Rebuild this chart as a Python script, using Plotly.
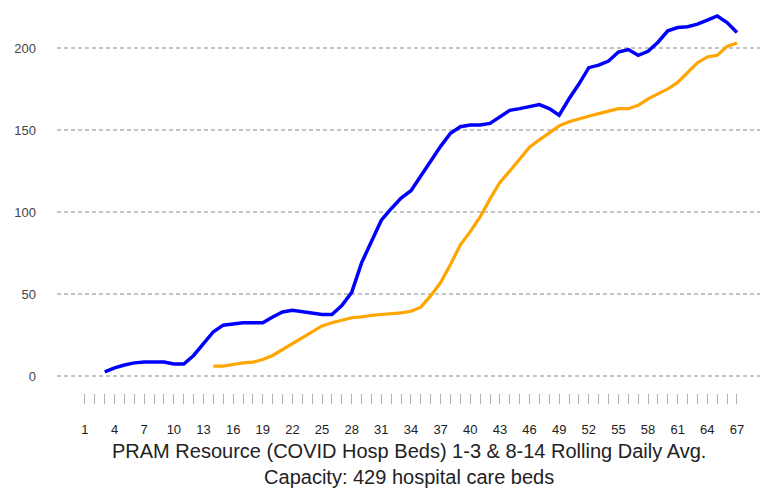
import plotly.graph_objects as go

days = list(range(1, 68))
tick_labels = [str(d) if (d - 1) % 3 == 0 else "" for d in days]

blue_vals = [None, None,
    2.5, 5, 6.7, 8, 8.5, 8.5, 8.5, 7.3, 7.3, 12.5, 20, 27, 31, 32, 32.5, 32.5, 32.5,
    36, 39, 40, 39, 38, 37.5, 37.5, 43, 51, 69, 82, 95, 102, 108.5, 113, 122, 131,
    140, 148, 152, 153, 153, 154, 158, 162, 163, 164.5, 165.5, 163, 159, 169, 178,
    188, 189.5, 192, 197.5, 199, 195.5, 198, 203.5, 210.5, 212.5, 213, 214.5, 217,
    219.5, 215.5, 209.5]

orange_vals = [None] * 13 + [
    6, 6, 7, 8, 8.5, 10, 12.5, 16, 20, 23.5, 27, 30.5, 32.5, 34, 35.5, 36, 37, 37.5,
    38, 38.5, 39.5, 42, 49, 57, 68, 80, 88, 97, 108, 118, 125, 132, 139.5, 144, 148,
    152.5, 155, 156.5, 158, 160, 161.5, 163, 163, 165, 169, 172, 175, 179, 185, 191,
    194.5, 195.5, 201, 203]

y_ticks = [0, 50, 100, 150, 200]
title_text = ("PRAM Resource (COVID Hosp Beds) 1-3 & 8-14 Rolling Daily Avg.<br>"
              "Capacity: 429 hospital care beds")

FONT = "Arial, Liberation Sans, sans-serif"

fig = go.Figure()
fig.add_trace(go.Scatter(x=days, y=blue_vals, mode="lines",
                         line=dict(color="#0000ff", width=3.5), showlegend=False))
fig.add_trace(go.Scatter(x=days, y=orange_vals, mode="lines",
                         line=dict(color="#ffa500", width=3.2), showlegend=False))

fig.update_layout(
    width=760, height=490,
    margin=dict(l=57, r=0, t=5, b=97),
    paper_bgcolor="white", plot_bgcolor="white",
    font=dict(family=FONT, color="#222222"),
    xaxis=dict(range=[-1.83, 69.33], tickmode="array", tickvals=days, ticktext=tick_labels,
               ticks="outside", ticklen=10, tickwidth=1, tickcolor="#b0b0b0",
               showgrid=False, zeroline=False, showline=False,
               tickfont=dict(size=13, color="#222222"), ticklabelstandoff=14),
    yaxis=dict(range=[-10.37, 226.2], tickmode="array", tickvals=y_ticks,
               showgrid=True, gridcolor="#c4c4c4", gridwidth=2, griddash="4px,3px",
               zeroline=False, showline=False, ticks="",
               tickfont=dict(size=13, color="#444444"), ticklabelstandoff=20),
    annotations=[dict(text=title_text, xref="paper", yref="paper", x=0.5, y=-0.183,
                      xanchor="center", yanchor="middle", showarrow=False,
                      font=dict(size=20, color="#222222", family=FONT))],
)

fig.write_html("out.html", config={"displayModeBar": False},
               post_script="document.body.style.margin='0';document.body.style.padding='0';")
